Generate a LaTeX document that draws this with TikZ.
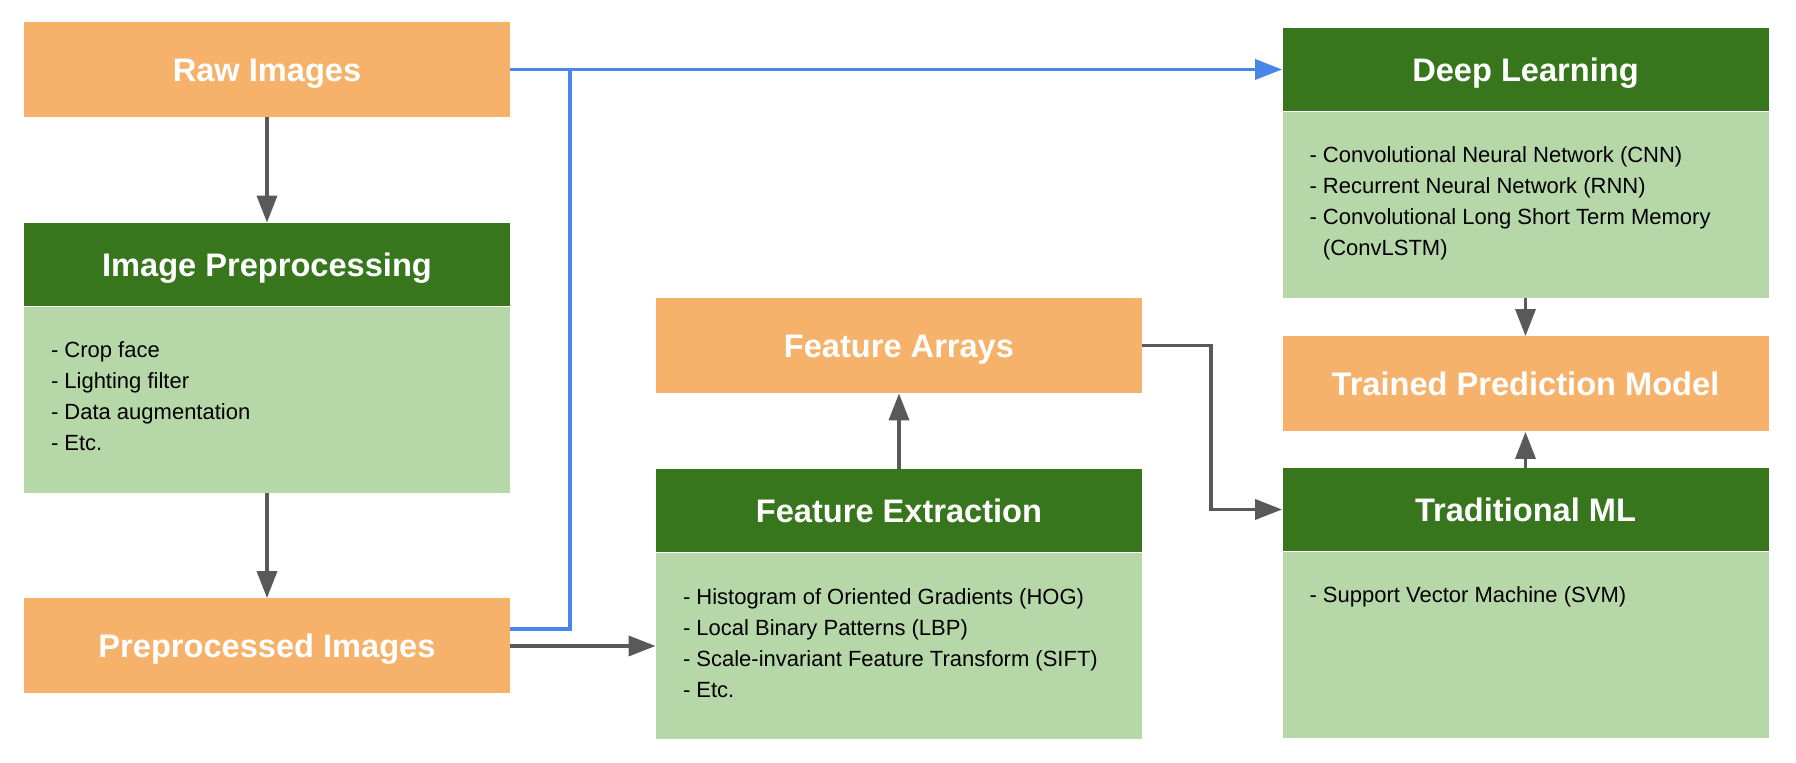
\documentclass[tikz,border=0pt]{standalone}
\usepackage{fontspec}
\setmainfont{Liberation Sans}
\usetikzlibrary{arrows.meta,positioning}
\definecolor{lorange}{HTML}{F6B26B}
\definecolor{dgreen}{HTML}{38761D}
\definecolor{lgreen}{HTML}{B6D7A8}
\definecolor{dgray}{HTML}{595959}
\definecolor{lblue}{HTML}{4A86E8}
\begin{document}
\begin{tikzpicture}[x=0.5pt, y=-0.5pt,
  box/.style={minimum width=243pt, inner sep=0pt, text=white, text height=11.6pt, text depth=0pt, font=\fontsize{16.3}{19}\selectfont\bfseries},
  io/.style={box, fill=lorange, minimum height=47.5pt},
  head/.style={box, fill=dgreen, minimum height=41.5pt},
  body/.style={fill=lgreen, minimum width=243pt, minimum height=93pt, inner sep=0pt},
  items/.style={anchor=north west, inner sep=0pt, align=left, font=\fontsize{11}{15.5}\selectfont},
  garrow/.style={draw=dgray, line width=1.75pt, -{Triangle[length=13.5pt, width=10pt]}},
  barrow/.style={draw=lblue, line width=1.85pt, -{Triangle[length=13.5pt, width=10pt]}},
  bline/.style={draw=lblue, line width=1.85pt}]
  \useasboundingbox (0,0) rectangle (1796,763);
  \node[io] (raw) at (267, 69.5) {Raw Images};
  \node[head] (ip) at (267, 264.5) {Image Preprocessing};
  \node[body, below=0pt of ip] (ipb) {};
  \node[io] (pre) at (267, 646) {Preprocessed Images};
  \node[io] (fa) at (899, 345.5) {Feature Arrays};
  \node[head] (fe) at (899, 511) {Feature Extraction};
  \node[body, below=0pt of fe] (feb) {};
  \node[head] (dl) at (1525.5, 69.5) {Deep Learning};
  \node[body, below=0pt of dl] (dlb) {};
  \node[io] (tpm) at (1525.5, 384) {Trained Prediction Model};
  \node[head] (tml) at (1525.5, 509.5) {Traditional ML};
  \node[body, below=0pt of tml] (tmlb) {};
  \node[items] (ipt) at ([xshift=13.5pt, yshift=-17.5pt]ipb.north west) {- Crop face\\- Lighting filter\\- Data augmentation\\- Etc.};
  \node[items] (fet) at ([xshift=13.5pt, yshift=-17.5pt]feb.north west) {- Histogram of Oriented Gradients (HOG)\\- Local Binary Patterns (LBP)\\- Scale-invariant Feature Transform (SIFT)\\- Etc.};
  \node[items] (dlt) at ([xshift=13.5pt, yshift=-17.5pt]dlb.north west) {- Convolutional Neural Network (CNN)\\- Recurrent Neural Network (RNN)\\- Convolutional Long Short Term Memory\\\hphantom{- }(ConvLSTM)};
  \node[items] (tmlt) at ([xshift=13.5pt, yshift=-17.5pt]tmlb.north west) {- Support Vector Machine (SVM)};
  \coordinate (j) at (570, 69.5);
  \coordinate (k) at (1211, 420);
  \draw[garrow] (raw) -- (ip);
  \draw[garrow] (ipb) -- (pre);
  \draw[garrow] (pre.east) -- (pre.east -| feb.west);
  \draw[garrow] (fe) -- (fa);
  \draw[garrow] (fa.east) -| (k) |- (tml.west);
  \draw[garrow] (dlb) -- (tpm);
  \draw[garrow] (tml) -- (tpm);
  \draw[barrow] (raw.east) -- (dl.west);
  \draw[bline] ([yshift=8.5pt]pre.east) -| (j);
\end{tikzpicture}
\end{document}
